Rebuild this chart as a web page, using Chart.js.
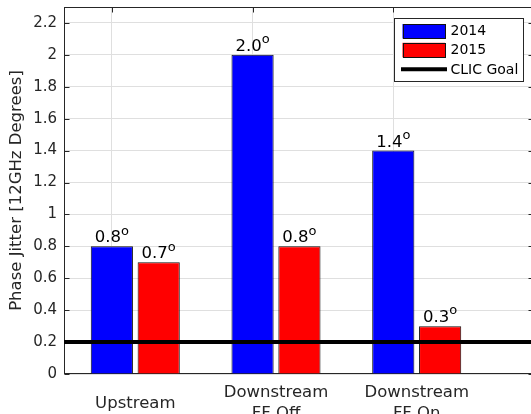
<!DOCTYPE html>
<html>
<head>
<meta charset="utf-8">
<title>Phase Jitter</title>
<script src="https://cdn.jsdelivr.net/npm/chart.js@4/dist/chart.umd.min.js"></script>
<style>
  html, body { margin: 0; padding: 0; background: #ffffff; overflow: hidden; }
  #wrap { position: relative; width: 536px; height: 414px; }
</style>
</head>
<body>
<div id="wrap"><canvas id="chart"></canvas></div>
<script>
// Measurement locations and their x positions (2015 bars sit just right of 2014)
const categories = ['Upstream', ['Downstream', 'FF Off'], ['Downstream', 'FF On']];
const positions = [1, 2, 3];
const offset2015 = 0.333;

// Phase jitter in 12 GHz degrees
const jitter2014 = [0.8, 2.0, 1.4];
const jitter2015 = [0.7, 0.8, 0.3];
const clicGoal = 0.2;

const seriesNames = ['2014', '2015', 'CLIC Goal'];
const seriesColors = ['#0000ff', '#ff0000', '#000000'];

const xRange = [0.66, 4.0];
const yRange = [0, 2.3];
const yStep = 0.2;

const FONT = 'DejaVu Sans';
const AXIS_COLOR = '#262626';
const GRID_COLOR = '#dfdfdf';
const EDGE_COLOR = '#111111';

// Box around the axes with inward tick marks on every side
const axesFrame = {
  id: 'axesFrame',
  beforeDatasetsDraw(chart) {
    const { ctx, chartArea: a, scales: { x, y } } = chart;
    ctx.save();
    ctx.strokeStyle = AXIS_COLOR;
    ctx.lineWidth = 1;
    const L = Math.round(a.left) + 0.5, R = Math.round(a.right) - 0.5;
    const T = Math.round(a.top) + 0.5, B = Math.round(a.bottom) - 0.5;
    ctx.strokeRect(L, T, R - L, B - T);
    ctx.beginPath();
    y.ticks.forEach(t => {
      const py = Math.round(y.getPixelForValue(t.value)) + 0.5;
      ctx.moveTo(L, py); ctx.lineTo(L + 5, py);
      ctx.moveTo(R, py); ctx.lineTo(R - 5, py);
    });
    x.ticks.forEach(t => {
      const px = Math.round(x.getPixelForValue(t.value)) + 0.5;
      ctx.moveTo(px, T); ctx.lineTo(px, T + 5);
    });
    ctx.stroke();
    ctx.restore();
  }
};

// Value above each bar, written as e.g. 0.8 with a raised "o"
const valueLabels = {
  id: 'valueLabels',
  afterDatasetsDraw(chart) {
    const ctx = chart.ctx;
    chart.data.datasets.forEach((ds, i) => {
      if (ds.type !== 'bar') return;
      const meta = chart.getDatasetMeta(i);
      meta.data.forEach((bar, j) => {
        const main = ds.data[j].y.toFixed(1);
        ctx.save();
        ctx.fillStyle = '#000000';
        ctx.textAlign = 'left';
        ctx.textBaseline = 'alphabetic';
        ctx.font = `16.5px "${FONT}"`;
        const wMain = ctx.measureText(main).width;
        ctx.font = `13px "${FONT}"`;
        const wSup = ctx.measureText('o').width;
        const x0 = bar.x - (wMain + wSup) / 2;
        const base = bar.y - 4;
        ctx.font = `16.5px "${FONT}"`;
        ctx.fillText(main, x0, base);
        ctx.font = `13px "${FONT}"`;
        ctx.fillText('o', x0 + wMain, base - 7.7);
        ctx.restore();
      });
    });
  }
};

// Group names centred under each pair of bars
const groupLabels = {
  id: 'groupLabels',
  afterDraw(chart) {
    const { ctx, chartArea: a, scales: { x } } = chart;
    ctx.save();
    ctx.font = `16.5px "${FONT}"`;
    ctx.fillStyle = AXIS_COLOR;
    ctx.textAlign = 'center';
    ctx.textBaseline = 'alphabetic';
    const lh = 21.7;
    const b0 = a.bottom + 22.7;
    categories.forEach((c, i) => {
      const lines = Array.isArray(c) ? c : [c];
      const cx = x.getPixelForValue(positions[i] + offset2015 / 2);
      const first = b0 + (2 - lines.length) * lh / 2;
      lines.forEach((t, k) => ctx.fillText(t, cx, first + k * lh));
    });
    ctx.restore();
  }
};

// Boxed legend in the upper right corner of the plot
const legendBox = {
  id: 'legendBox',
  afterDraw(chart) {
    const { ctx, chartArea: a } = chart;
    const w = 129, h = 63;
    const left = Math.round(a.right - 11.5 - w) + 0.5;
    const top = Math.round(a.top + 10.5) + 0.5;
    ctx.save();
    ctx.fillStyle = '#ffffff';
    ctx.fillRect(left, top, w, h);
    ctx.strokeStyle = AXIS_COLOR;
    ctx.lineWidth = 1;
    ctx.strokeRect(left, top, w, h);
    const rowCenters = [12.5, 31.3, 50.8];
    const order = [1, 2, 0];
    order.forEach((di, r) => {
      const ds = chart.data.datasets[di];
      const cy = top + rowCenters[r];
      if (ds.type === 'bar') {
        ctx.fillStyle = ds.backgroundColor;
        ctx.fillRect(left + 8, cy - 7, 42.5, 14.5);
        ctx.strokeStyle = EDGE_COLOR;
        ctx.lineWidth = 1;
        ctx.strokeRect(Math.round(left + 8) + 0.5, Math.round(cy - 7) + 0.5, 42, 14);
      } else {
        ctx.strokeStyle = ds.borderColor;
        ctx.lineWidth = 4;
        ctx.beginPath();
        ctx.moveTo(left + 6.5, cy);
        ctx.lineTo(left + 52.5, cy);
        ctx.stroke();
      }
      ctx.fillStyle = '#000000';
      ctx.font = `14px "${FONT}"`;
      ctx.textAlign = 'left';
      ctx.textBaseline = 'middle';
      ctx.fillText(ds.label, left + 56, cy + 0.8);
    });
    ctx.restore();
  }
};

const goalLine = [{ x: xRange[0], y: clicGoal }, { x: xRange[1], y: clicGoal }];

new Chart(document.getElementById('chart'), {
  type: 'bar',
  data: {
    datasets: [
      {
        type: 'line',
        label: seriesNames[2],
        data: goalLine,
        borderColor: seriesColors[2],
        backgroundColor: seriesColors[2],
        borderWidth: 4,
        pointRadius: 0,
        fill: false,
        order: 0
      },
      {
        type: 'bar',
        label: seriesNames[0],
        data: positions.map((p, i) => ({ x: p, y: jitter2014[i] })),
        backgroundColor: seriesColors[0],
        borderColor: EDGE_COLOR,
        borderWidth: 1,
        inflateAmount: 0,
        grouped: false,
        barPercentage: 0.9,
        categoryPercentage: 1.0,
        order: 1
      },
      {
        type: 'bar',
        label: seriesNames[1],
        data: positions.map((p, i) => ({ x: p + offset2015, y: jitter2015[i] })),
        backgroundColor: seriesColors[1],
        borderColor: EDGE_COLOR,
        borderWidth: 1,
        inflateAmount: 0,
        grouped: false,
        barPercentage: 0.9,
        categoryPercentage: 1.0,
        order: 1
      }
    ]
  },
  options: {
    responsive: true,
    maintainAspectRatio: false,
    animation: false,
    events: [],
    layout: { padding: { left: 0, right: 2, top: 7, bottom: 0 } },
    plugins: {
      legend: { display: false },
      tooltip: { enabled: false }
    },
    scales: {
      x: {
        type: 'linear',
        min: xRange[0],
        max: xRange[1],
        offset: false,
        afterBuildTicks: s => { s.ticks = positions.map(v => ({ value: v })); },
        afterFit: s => { s.height = 40; s.paddingLeft = 0; s.paddingRight = 0; },
        ticks: { display: false },
        grid: { color: GRID_COLOR, lineWidth: 1, drawTicks: false, offset: false },
        border: { display: false }
      },
      y: {
        min: yRange[0],
        max: yRange[1],
        afterFit: s => { s.width = 64; s.paddingTop = 0; s.paddingBottom = 0; },
        ticks: {
          stepSize: yStep,
          includeBounds: false,
          padding: 7,
          color: AXIS_COLOR,
          font: { family: FONT, size: 15 },
          callback: v => String(Math.round(v * 10) / 10)
        },
        grid: { color: GRID_COLOR, lineWidth: 1, drawTicks: false },
        border: { display: false },
        title: {
          display: true,
          text: 'Phase Jitter [12GHz Degrees]',
          color: AXIS_COLOR,
          font: { family: FONT, size: 16.5 },
          padding: { top: 7, bottom: 0 }
        }
      }
    }
  },
  plugins: [axesFrame, valueLabels, groupLabels, legendBox]
});
</script>
</body>
</html>
